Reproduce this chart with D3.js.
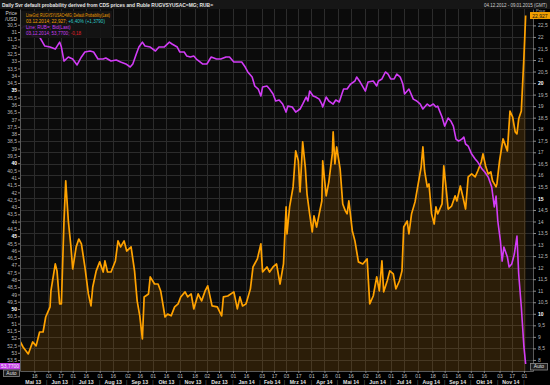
<!DOCTYPE html>
<html>
<head>
<meta charset="utf-8">
<script src="https://cdn.jsdelivr.net/npm/d3@7"></script>
<style>
  html, body { margin: 0; padding: 0; background: #000; overflow: hidden; }
  svg { display: block; font-family: "Liberation Sans", Arial, sans-serif; }
</style>
</head>
<body>
<div id="chart"></div>
<script>
// chart texts
const title = "Daily Svr default probability derived from CDS prices and Ruble RUGVSYUSAC=MG; RUB=";
const dateRange = "04.12.2012 - 09.01.2015 (GMT)";
const monthNames = ["Jan", "Feb", "Mrz", "Apr", "Mai", "Jun", "Jul", "Aug", "Sep", "Okt", "Nov", "Dez"];

// default probability (right axis, orange)
const probDates = ["2013-05-02","2013-05-05","2013-05-11","2013-05-16","2013-05-20","2013-05-24","2013-05-28","2013-05-31","2013-06-05","2013-06-06",
  "2013-06-11","2013-06-13","2013-06-16","2013-06-18","2013-06-21","2013-06-23","2013-06-26","2013-06-29","2013-07-01","2013-07-05",
  "2013-07-08","2013-07-11","2013-07-15","2013-07-19","2013-07-22","2013-07-24","2013-07-28","2013-08-01","2013-08-05","2013-08-07",
  "2013-08-10","2013-08-14","2013-08-19","2013-08-22","2013-08-25","2013-08-29","2013-09-01","2013-09-06","2013-09-10","2013-09-13",
  "2013-09-16","2013-09-19","2013-09-21","2013-09-26","2013-09-28","2013-10-03","2013-10-07","2013-10-10","2013-10-15","2013-10-18",
  "2013-10-22","2013-10-26","2013-10-30","2013-11-02","2013-11-07","2013-11-10","2013-11-14","2013-11-17","2013-11-22","2013-11-26",
  "2013-11-30","2013-12-03","2013-12-08","2013-12-14","2013-12-19","2013-12-21","2013-12-26","2014-01-02","2014-01-06","2014-01-09",
  "2014-01-12","2014-01-16","2014-01-21","2014-01-24","2014-01-29","2014-02-02","2014-02-04","2014-02-09","2014-02-12","2014-02-16",
  "2014-02-20","2014-02-24","2014-02-28","2014-03-03","2014-03-04","2014-03-07","2014-03-11","2014-03-14","2014-03-17","2014-03-19",
  "2014-03-22","2014-03-25","2014-03-27","2014-03-30","2014-04-02","2014-04-04","2014-04-07","2014-04-10","2014-04-13","2014-04-14",
  "2014-04-18","2014-04-21","2014-04-25","2014-04-26","2014-04-28","2014-04-30","2014-05-04","2014-05-07","2014-05-10","2014-05-12",
  "2014-05-14","2014-05-18","2014-05-21","2014-05-25","2014-05-30","2014-06-04","2014-06-07","2014-06-11","2014-06-15","2014-06-18",
  "2014-06-21","2014-06-23","2014-06-27","2014-06-30","2014-07-04","2014-07-07","2014-07-11","2014-07-14","2014-07-16","2014-07-20",
  "2014-07-22","2014-07-25","2014-07-29","2014-08-01","2014-08-05","2014-08-07","2014-08-09","2014-08-12","2014-08-14","2014-08-17",
  "2014-08-20","2014-08-22","2014-08-24","2014-08-29","2014-08-31","2014-09-03","2014-09-05","2014-09-09","2014-09-13","2014-09-15",
  "2014-09-19","2014-09-22","2014-09-25","2014-09-28","2014-10-02","2014-10-06","2014-10-09","2014-10-13","2014-10-15","2014-10-18",
  "2014-10-21","2014-10-24","2014-10-26","2014-10-30","2014-10-31","2014-11-03","2014-11-07","2014-11-12","2014-11-15","2014-11-18",
  "2014-11-21","2014-11-23","2014-11-25","2014-11-28","2014-12-01","2014-12-03"];
const probValues = [8.78,8.56,8.26,8.78,8.61,9.21,9.21,9.86,10.30,10.99,
  12.16,11.86,10.43,10.43,14.02,15.76,14.02,12.90,11.94,12.90,
  13.24,13.03,12.03,10.86,10.34,11.16,11.86,12.25,11.81,12.29,
  11.81,11.81,12.29,13.16,12.90,13.16,12.72,12.90,11.86,10.56,
  9.91,8.91,10.73,10.86,11.60,11.29,11.29,10.99,9.86,9.99,
  9.91,10.30,10.43,10.73,10.95,10.73,10.86,10.21,10.86,10.56,
  10.99,11.21,10.34,10.30,9.91,10.73,10.77,10.95,10.21,10.73,
  10.34,10.43,11.08,12.03,12.38,13.03,11.81,12.03,11.81,12.03,
  12.16,11.29,12.16,14.63,13.46,14.63,15.50,17.06,16.63,15.28,
  17.45,16.36,15.19,14.33,13.55,14.24,13.76,14.33,14.89,16.63,
  15.11,15.71,16.93,17.88,16.50,17.23,16.28,14.76,14.46,14.33,
  14.89,13.59,13.16,12.25,12.16,12.38,10.43,10.77,11.60,10.99,
  12.29,10.95,11.42,11.86,11.73,11.08,11.42,11.86,13.76,14.02,
  13.46,14.33,14.85,15.50,16.36,17.23,16.19,15.50,15.63,14.33,
  13.89,14.63,14.33,14.76,16.41,15.32,14.54,14.67,15.11,14.89,
  15.54,15.06,14.54,15.93,16.06,15.93,16.19,16.58,16.93,16.41,
  16.06,16.15,15.76,15.50,15.63,16.63,17.58,17.06,18.79,18.53,
  17.88,17.80,18.45,18.79,21.13,22.927];

// USD/RUB bid (left axis, inverted, purple)
const rubDates = ["2013-05-02","2013-05-05","2013-05-08","2013-05-16","2013-05-24","2013-05-30","2013-06-05","2013-06-11","2013-06-16","2013-06-18",
  "2013-06-21","2013-06-26","2013-07-01","2013-07-06","2013-07-11","2013-07-15","2013-07-21","2013-07-25","2013-07-30","2013-08-05",
  "2013-08-08","2013-08-14","2013-08-20","2013-08-25","2013-08-31","2013-09-05","2013-09-08","2013-09-12","2013-09-15","2013-09-19",
  "2013-09-22","2013-09-28","2013-10-04","2013-10-08","2013-10-14","2013-10-20","2013-10-23","2013-10-29","2013-11-01","2013-11-06",
  "2013-11-09","2013-11-13","2013-11-17","2013-11-20","2013-11-23","2013-11-27","2013-12-02","2013-12-07","2013-12-13","2013-12-18",
  "2013-12-24","2013-12-28","2014-01-02","2014-01-07","2014-01-11","2014-01-15","2014-01-18","2014-01-23","2014-01-26","2014-01-30",
  "2014-02-02","2014-02-04","2014-02-09","2014-02-12","2014-02-16","2014-02-19","2014-02-23","2014-02-27","2014-03-03","2014-03-05",
  "2014-03-10","2014-03-14","2014-03-19","2014-03-22","2014-03-26","2014-03-28","2014-03-30","2014-04-03","2014-04-06","2014-04-10",
  "2014-04-13","2014-04-14","2014-04-18","2014-04-21","2014-04-26","2014-04-29","2014-05-03","2014-05-06","2014-05-08","2014-05-12",
  "2014-05-16","2014-05-21","2014-05-23","2014-05-27","2014-06-02","2014-06-05","2014-06-11","2014-06-15","2014-06-17","2014-06-21",
  "2014-06-25","2014-06-28","2014-07-01","2014-07-05","2014-07-08","2014-07-12","2014-07-15","2014-07-17","2014-07-22","2014-07-27",
  "2014-07-31","2014-08-04","2014-08-07","2014-08-12","2014-08-15","2014-08-19","2014-08-22","2014-08-24","2014-08-29","2014-09-01",
  "2014-09-05","2014-09-08","2014-09-11","2014-09-14","2014-09-17","2014-09-21","2014-09-23","2014-09-25","2014-09-28","2014-10-02",
  "2014-10-06","2014-10-09","2014-10-14","2014-10-17","2014-10-21","2014-10-25","2014-10-28","2014-10-30","2014-11-01","2014-11-04",
  "2014-11-06","2014-11-08","2014-11-12","2014-11-14","2014-11-17","2014-11-20","2014-11-23","2014-11-25","2014-11-28","2014-12-01",
  "2014-12-03"];
const rubValues = [30.79,30.66,30.59,31.27,31.34,31.96,32.03,32.17,31.69,32.03,
  32.99,32.71,32.85,33.26,32.71,32.37,32.30,32.37,32.85,32.85,
  32.78,32.99,32.92,33.06,33.19,33.40,33.19,32.51,32.03,31.69,
  31.96,32.03,32.30,32.03,32.03,31.69,31.82,32.03,32.37,32.37,
  32.65,32.71,32.65,32.85,32.99,33.19,33.19,32.71,32.85,32.85,
  32.71,32.71,33.06,33.06,33.06,33.40,33.74,34.09,34.70,34.91,
  35.39,34.77,34.70,34.91,35.25,35.73,35.66,35.94,36.49,36.08,
  36.14,36.49,36.28,35.94,35.46,35.73,35.05,35.39,35.46,35.60,
  35.94,36.14,35.46,35.73,35.94,35.66,35.80,35.25,34.91,34.91,
  34.57,34.36,34.09,34.43,35.05,34.43,34.36,34.70,34.36,34.22,
  33.74,33.88,34.22,34.22,33.88,34.09,34.57,35.25,34.91,35.60,
  35.73,35.94,36.28,35.94,36.08,35.94,36.14,36.08,36.83,37.45,
  36.90,37.10,37.45,38.34,38.48,38.34,38.20,38.68,38.82,39.37,
  39.71,39.92,40.40,40.60,40.95,41.63,43.00,42.25,43.96,45.33,
  46.71,45.75,46.43,47.12,46.91,46.23,44.99,47.60,49.86,52.60,
  53.77];

// x axis tick dates (day labels)
const tickDates = ["2013-05-18","2013-06-03","2013-06-17","2013-07-01","2013-07-16","2013-08-01","2013-08-16","2013-09-02","2013-09-16",
  "2013-10-01","2013-10-16","2013-11-01","2013-11-18","2013-12-02","2013-12-16","2014-01-01","2014-01-16","2014-02-03","2014-02-17",
  "2014-03-03","2014-03-17","2014-04-01","2014-04-16","2014-05-01","2014-05-16","2014-06-02","2014-06-16","2014-07-01","2014-07-16",
  "2014-08-01","2014-08-18","2014-09-01","2014-09-16","2014-10-01","2014-10-16","2014-11-03","2014-11-17","2014-12-01"];

// legend lines
const legendProbName = "LineGrd; RUGVSYUSAC=MG; Default Probability(Last)";
const legendProbLast = "03.12.2014; 22,927; ";
const legendProbChg = "+6,40% (+1,3790)";
const legendRubName = "Line; RUB=; Bid(Last)";
const legendRubLast = "03.12.2014; 53,7700; ";
const legendRubChg = "-0,18";

const W = 550, H = 385;
const m = {l: 20, r: 533, t: 9, b: 371};
const parse = d3.utcParse("%Y-%m-%d");
const comma = v => (Math.round(v * 10) / 10).toString().replace(".", ",");

const prob = probDates.map((d, i) => ({date: parse(d), v: probValues[i]}));
const rub = rubDates.map((d, i) => ({date: parse(d), v: rubValues[i]}));
const ticks = tickDates.map(parse);

const x = d3.scaleUtc()
  .domain([new Date(Date.UTC(2013, 4, 1, 12)), new Date(Date.UTC(2014, 11, 11, 10))])
  .range([m.l, m.r]);
const yL = d3.scaleLinear().domain([29.42, 54.25]).range([m.t, m.b]);   // inverted ruble
const yR = d3.scaleLinear().domain([23.21, 7.52]).range([m.t, m.b]);

const leftTicks = d3.range(30.5, 53.75, 0.5);
const rightTicks = d3.range(8, 22.75, 0.5);

const svg = d3.select("#chart").append("svg")
  .attr("width", W).attr("height", H);

svg.append("rect").attr("width", W).attr("height", H).attr("fill", "#000");

const defs = svg.append("defs");
defs.append("clipPath").attr("id", "plotclip")
  .append("rect").attr("x", m.l).attr("y", m.t).attr("width", m.r - m.l).attr("height", m.b - m.t);

// title bar
svg.append("rect").attr("x", 0).attr("y", 0).attr("width", W).attr("height", 9).attr("fill", "#161616");
svg.append("text").attr("x", 2).attr("y", 6.5)
  .attr("font-size", 5.6).attr("font-weight", "bold").attr("fill", "#e6e6e6")
  .attr("textLength", 211).attr("lengthAdjust", "spacingAndGlyphs")
  .text(title);
svg.append("text").attr("x", 547).attr("y", 6.5).attr("text-anchor", "end")
  .attr("font-size", 4.8).attr("fill", "#cfcfcf")
  .attr("textLength", 63).attr("lengthAdjust", "spacingAndGlyphs")
  .text(dateRange);

// plot background and grid
svg.append("rect").attr("x", m.l).attr("y", m.t).attr("width", m.r - m.l).attr("height", m.b - m.t)
  .attr("fill", "#0b0b0b");

const grid = svg.append("g").attr("stroke", "#2c2c2c").attr("stroke-width", 1);
grid.selectAll("line.v").data(ticks).join("line").attr("class", "v")
  .attr("x1", d => Math.round(x(d)) + 0.5).attr("x2", d => Math.round(x(d)) + 0.5)
  .attr("y1", m.t).attr("y2", m.b);
grid.selectAll("line.h").data(rightTicks).join("line").attr("class", "h")
  .attr("x1", m.l).attr("x2", m.r)
  .attr("y1", d => Math.round(yR(d)) + 0.5).attr("y2", d => Math.round(yR(d)) + 0.5);

const plot = svg.append("g").attr("clip-path", "url(#plotclip)");

// orange area (dark translucent tint) + line
const areaGen = d3.area().x(d => x(d.date)).y0(m.b).y1(d => yR(d.v));
plot.append("path").datum(prob)
  .attr("fill", "#b06800").attr("fill-opacity", 0.2)
  .attr("d", areaGen);
plot.append("path").datum(prob)
  .attr("fill", "none").attr("stroke", "#ffa200").attr("stroke-width", 1.7)
  .attr("stroke-linejoin", "round")
  .attr("d", d3.line().x(d => x(d.date)).y(d => yR(d.v)));

// purple line
plot.append("path").datum(rub)
  .attr("fill", "none").attr("stroke", "#d23cf6").attr("stroke-width", 1.6)
  .attr("stroke-linejoin", "round")
  .attr("d", d3.line().x(d => x(d.date)).y(d => yL(d.v)));

// axes
function styleAxis(g) {
  g.select(".domain").attr("stroke", "#5a5a5a");
  g.selectAll(".tick line").attr("stroke", "#8a8a8a");
  g.selectAll("text").attr("font-family", "Liberation Sans, Arial, sans-serif");
}

const axL = svg.append("g").attr("transform", `translate(${m.l},0)`)
  .call(d3.axisLeft(yL).tickValues(leftTicks).tickSize(2).tickSizeOuter(0).tickPadding(1).tickFormat(comma));
styleAxis(axL);
axL.selectAll("text").attr("font-size", 5)
  .attr("fill", d => d % 5 === 0 ? "#ffffff" : "#b8b8b8")
  .attr("font-weight", d => d % 5 === 0 ? "bold" : "normal");

const axR = svg.append("g").attr("transform", `translate(${m.r},0)`)
  .call(d3.axisRight(yR).tickValues(rightTicks).tickSize(3).tickSizeOuter(0).tickPadding(2).tickFormat(comma));
styleAxis(axR);
axR.selectAll("text").attr("font-size", 5)
  .attr("fill", d => d % 5 === 0 ? "#ffffff" : "#b8b8b8")
  .attr("font-weight", d => d % 5 === 0 ? "bold" : "normal");

const axB = svg.append("g").attr("transform", `translate(0,${m.b})`)
  .call(d3.axisBottom(x).tickValues(ticks).tickSize(2).tickSizeOuter(0).tickPadding(1).tickFormat(d3.utcFormat("%d")));
styleAxis(axB);
axB.selectAll("text").attr("font-size", 5).attr("fill", "#c0c0c0");

// month labels with separators
const months = d3.utcMonth.range(d3.utcMonth.floor(x.domain()[0]), x.domain()[1]);
const mg = svg.append("g").attr("font-size", 5.2).attr("font-weight", "bold");
months.forEach(mo => {
  const a = Math.max(x(mo), m.l), b = Math.min(x(d3.utcMonth.offset(mo, 1)), m.r);
  if (x(mo) > m.l) {
    mg.append("text").attr("x", x(mo)).attr("y", 384).attr("text-anchor", "middle")
      .attr("fill", "#777").attr("font-weight", "normal").text("|");
  }
  if (b - a > 18) {
    mg.append("text").attr("x", (a + b) / 2).attr("y", 384).attr("text-anchor", "middle")
      .attr("fill", "#e0e0e0")
      .text(monthNames[mo.getUTCMonth()] + " " + String(mo.getUTCFullYear()).slice(2));
  }
});

// axis captions
svg.append("text").attr("x", 17).attr("y", 14.5).attr("text-anchor", "end")
  .attr("font-size", 5).attr("fill", "#d0d0d0").text("Price");
svg.append("text").attr("x", 17).attr("y", 20.5).attr("text-anchor", "end")
  .attr("font-size", 5).attr("fill", "#d0d0d0").text("/USD");
svg.append("text").attr("x", 536).attr("y", 11.5)
  .attr("font-size", 4).attr("fill", "#bbb").text("Price");

// last value boxes
svg.append("rect").attr("x", 530).attr("y", yR(22.927) - 3.5).attr("width", 20).attr("height", 7).attr("fill", "#f2a000");
svg.append("text").attr("x", 540).attr("y", yR(22.927) + 2).attr("text-anchor", "middle")
  .attr("font-size", 5).attr("fill", "#111").text("22,927");
svg.append("rect").attr("x", 0).attr("y", 363).attr("width", 20).attr("height", 6.5).attr("fill", "#c23be8");
svg.append("text").attr("x", 10).attr("y", 368).attr("text-anchor", "middle")
  .attr("font-size", 5).attr("fill", "#f4f4f4").text("53,7700");

function autoBox(x0, y0, w) {
  svg.append("rect").attr("x", x0 + 0.5).attr("y", y0 + 0.5).attr("width", w).attr("height", 6.5)
    .attr("fill", "#1e1e1e").attr("stroke", "#8a8a8a").attr("stroke-width", 0.8);
  svg.append("text").attr("x", x0 + w / 2 + 0.5).attr("y", y0 + 5.4).attr("text-anchor", "middle")
    .attr("font-size", 5).attr("fill", "#e0e0e0").text("Auto");
}
autoBox(3, 369.5, 16);
autoBox(530, 363, 17);

// legend
const lg = svg.append("g");
lg.append("rect").attr("x", 21).attr("y", 11).attr("width", 91).attr("height", 27)
  .attr("fill", "#151515").attr("fill-opacity", 0.92);
const lt = lg.append("g").attr("font-size", 4.6);
lt.append("text").attr("x", 26).attr("y", 16.5).attr("fill", "#f2a000")
  .attr("textLength", 84).attr("lengthAdjust", "spacingAndGlyphs").text(legendProbName);
const l2 = lt.append("text").attr("x", 26).attr("y", 22.5);
l2.append("tspan").attr("fill", "#f2a000").text(legendProbLast);
l2.append("tspan").attr("fill", "#2ec8c8").text(legendProbChg);
lt.append("text").attr("x", 26).attr("y", 28.5).attr("fill", "#c83cf0").text(legendRubName);
const l4 = lt.append("text").attr("x", 26).attr("y", 34.5);
l4.append("tspan").attr("fill", "#c83cf0").text(legendRubLast);
l4.append("tspan").attr("fill", "#e0202a").text(legendRubChg);
</script>
</body>
</html>
